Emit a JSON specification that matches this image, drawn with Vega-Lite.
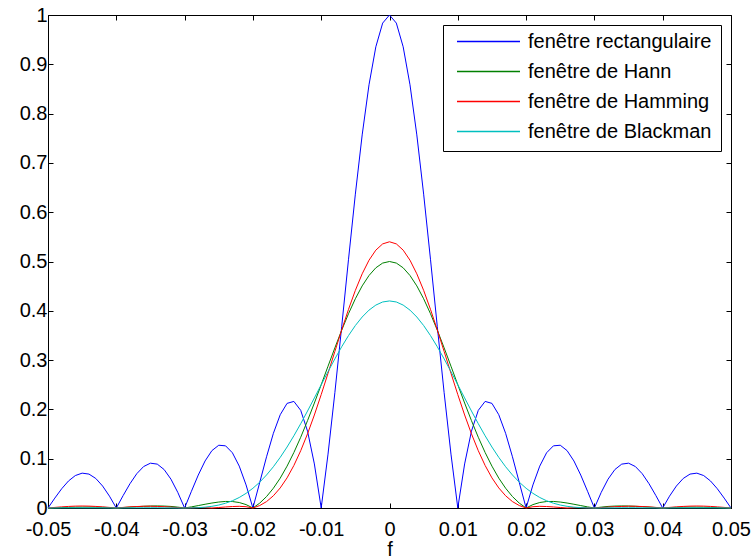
{
  "$schema": "https://vega.github.io/schema/vega-lite/v6.json",
  "width": 683,
  "height": 493,
  "autosize": "none",
  "padding": {"left": 48, "top": 15, "right": 23, "bottom": 52},
  "background": "white",
  "config": {
    "font": "Liberation Sans",
    "view": {"stroke": "black", "strokeWidth": 1},
    "axis": {"grid": false, "domainColor": "black", "tickColor": "black", "labelColor": "black", "titleColor": "black", "labelFontSize": 20, "titleFontSize": 20, "titleFontWeight": "normal", "tickSize": -5, "domainWidth": 1, "tickWidth": 1, "labelFlush": false, "labelOverlap": false}
  },
  "data": {"values": [
    {"f": -0.05, "rect": 0, "hann": 0, "hamming": 0, "blackman": 0},
    {"f": -0.049, "rect": 0.0201, "hann": 0.0004, "hamming": 0.0012, "blackman": 0.0001},
    {"f": -0.048, "rect": 0.039, "hann": 0.0009, "hamming": 0.0023, "blackman": 0.0003},
    {"f": -0.047, "rect": 0.0548, "hann": 0.0013, "hamming": 0.0032, "blackman": 0.0004},
    {"f": -0.046, "rect": 0.0658, "hann": 0.0016, "hamming": 0.0038, "blackman": 0.0004},
    {"f": -0.045, "rect": 0.0707, "hann": 0.0018, "hamming": 0.004, "blackman": 0.0004},
    {"f": -0.044, "rect": 0.0688, "hann": 0.0019, "hamming": 0.0038, "blackman": 0.0004},
    {"f": -0.043, "rect": 0.0599, "hann": 0.0017, "hamming": 0.0032, "blackman": 0.0004},
    {"f": -0.042, "rect": 0.0445, "hann": 0.0013, "hamming": 0.0023, "blackman": 0.0003},
    {"f": -0.041, "rect": 0.024, "hann": 0.0008, "hamming": 0.0012, "blackman": 0.0002},
    {"f": -0.04, "rect": 0, "hann": 0, "hamming": 0, "blackman": 0},
    {"f": -0.039, "rect": 0.0252, "hann": 0.0009, "hamming": 0.0012, "blackman": 0.0002},
    {"f": -0.038, "rect": 0.0492, "hann": 0.0018, "hamming": 0.0023, "blackman": 0.0003},
    {"f": -0.037, "rect": 0.0696, "hann": 0.0027, "hamming": 0.003, "blackman": 0.0004},
    {"f": -0.036, "rect": 0.0841, "hann": 0.0035, "hamming": 0.0035, "blackman": 0.0005},
    {"f": -0.035, "rect": 0.0909, "hann": 0.004, "hamming": 0.0036, "blackman": 0.0005},
    {"f": -0.034, "rect": 0.089, "hann": 0.0042, "hamming": 0.0032, "blackman": 0.0005},
    {"f": -0.033, "rect": 0.078, "hann": 0.0039, "hamming": 0.0026, "blackman": 0.0003},
    {"f": -0.032, "rect": 0.0585, "hann": 0.0032, "hamming": 0.0018, "blackman": 0.0002},
    {"f": -0.031, "rect": 0.0317, "hann": 0.0018, "hamming": 0.0008, "blackman": 0},
    {"f": -0.03, "rect": 0, "hann": 0, "hamming": 0, "blackman": 0},
    {"f": -0.029, "rect": 0.0339, "hann": 0.0023, "hamming": 0.0006, "blackman": 0.0002},
    {"f": -0.028, "rect": 0.0668, "hann": 0.0049, "hamming": 0.0009, "blackman": 0.0007},
    {"f": -0.027, "rect": 0.0954, "hann": 0.0076, "hamming": 0.0007, "blackman": 0.0017},
    {"f": -0.026, "rect": 0.1164, "hann": 0.0101, "hamming": 0, "blackman": 0.0034},
    {"f": -0.025, "rect": 0.1273, "hann": 0.0121, "hamming": 0.001, "blackman": 0.006},
    {"f": -0.024, "rect": 0.1261, "hann": 0.0133, "hamming": 0.0021, "blackman": 0.0097},
    {"f": -0.023, "rect": 0.112, "hann": 0.0131, "hamming": 0.003, "blackman": 0.0147},
    {"f": -0.022, "rect": 0.085, "hann": 0.0111, "hamming": 0.0034, "blackman": 0.0213},
    {"f": -0.021, "rect": 0.0468, "hann": 0.0069, "hamming": 0.0026, "blackman": 0.0297},
    {"f": -0.02, "rect": 0, "hann": 0, "hamming": 0, "blackman": 0.04},
    {"f": -0.019, "rect": 0.0518, "hann": 0.0099, "hamming": 0.005, "blackman": 0.0524},
    {"f": -0.018, "rect": 0.1039, "hann": 0.0232, "hamming": 0.013, "blackman": 0.067},
    {"f": -0.017, "rect": 0.1515, "hann": 0.0401, "hamming": 0.0248, "blackman": 0.0837},
    {"f": -0.016, "rect": 0.1892, "hann": 0.0606, "hamming": 0.0407, "blackman": 0.1027},
    {"f": -0.015, "rect": 0.2122, "hann": 0.0849, "hamming": 0.0611, "blackman": 0.1237},
    {"f": -0.014, "rect": 0.2162, "hann": 0.1126, "hamming": 0.0863, "blackman": 0.1465},
    {"f": -0.013, "rect": 0.1981, "hann": 0.1435, "hamming": 0.1162, "blackman": 0.171},
    {"f": -0.012, "rect": 0.1559, "hann": 0.1772, "hamming": 0.1505, "blackman": 0.1967},
    {"f": -0.011, "rect": 0.0894, "hann": 0.2129, "hamming": 0.1887, "blackman": 0.2232},
    {"f": -0.01, "rect": 0, "hann": 0.25, "hamming": 0.23, "blackman": 0.25},
    {"f": -0.009, "rect": 0.1093, "hann": 0.2876, "hamming": 0.2733, "blackman": 0.2766},
    {"f": -0.008, "rect": 0.2339, "hann": 0.3248, "hamming": 0.3175, "blackman": 0.3025},
    {"f": -0.007, "rect": 0.3679, "hann": 0.3607, "hamming": 0.3612, "blackman": 0.3271},
    {"f": -0.006, "rect": 0.5046, "hann": 0.3942, "hamming": 0.403, "blackman": 0.3498},
    {"f": -0.005, "rect": 0.6366, "hann": 0.4244, "hamming": 0.4414, "blackman": 0.3701},
    {"f": -0.004, "rect": 0.7568, "hann": 0.4505, "hamming": 0.475, "blackman": 0.3874},
    {"f": -0.003, "rect": 0.8584, "hann": 0.4716, "hamming": 0.5026, "blackman": 0.4014},
    {"f": -0.002, "rect": 0.9355, "hann": 0.4872, "hamming": 0.5231, "blackman": 0.4116},
    {"f": -0.001, "rect": 0.9836, "hann": 0.4968, "hamming": 0.5357, "blackman": 0.4179},
    {"f": 0, "rect": 1, "hann": 0.5, "hamming": 0.54, "blackman": 0.42},
    {"f": 0.001, "rect": 0.9836, "hann": 0.4968, "hamming": 0.5357, "blackman": 0.4179},
    {"f": 0.002, "rect": 0.9355, "hann": 0.4872, "hamming": 0.5231, "blackman": 0.4116},
    {"f": 0.003, "rect": 0.8584, "hann": 0.4716, "hamming": 0.5026, "blackman": 0.4014},
    {"f": 0.004, "rect": 0.7568, "hann": 0.4505, "hamming": 0.475, "blackman": 0.3874},
    {"f": 0.005, "rect": 0.6366, "hann": 0.4244, "hamming": 0.4414, "blackman": 0.3701},
    {"f": 0.006, "rect": 0.5046, "hann": 0.3942, "hamming": 0.403, "blackman": 0.3498},
    {"f": 0.007, "rect": 0.3679, "hann": 0.3607, "hamming": 0.3612, "blackman": 0.3271},
    {"f": 0.008, "rect": 0.2339, "hann": 0.3248, "hamming": 0.3175, "blackman": 0.3025},
    {"f": 0.009, "rect": 0.1093, "hann": 0.2876, "hamming": 0.2733, "blackman": 0.2766},
    {"f": 0.01, "rect": 0, "hann": 0.25, "hamming": 0.23, "blackman": 0.25},
    {"f": 0.011, "rect": 0.0894, "hann": 0.2129, "hamming": 0.1887, "blackman": 0.2232},
    {"f": 0.012, "rect": 0.1559, "hann": 0.1772, "hamming": 0.1505, "blackman": 0.1967},
    {"f": 0.013, "rect": 0.1981, "hann": 0.1435, "hamming": 0.1162, "blackman": 0.171},
    {"f": 0.014, "rect": 0.2162, "hann": 0.1126, "hamming": 0.0863, "blackman": 0.1465},
    {"f": 0.015, "rect": 0.2122, "hann": 0.0849, "hamming": 0.0611, "blackman": 0.1237},
    {"f": 0.016, "rect": 0.1892, "hann": 0.0606, "hamming": 0.0407, "blackman": 0.1027},
    {"f": 0.017, "rect": 0.1515, "hann": 0.0401, "hamming": 0.0248, "blackman": 0.0837},
    {"f": 0.018, "rect": 0.1039, "hann": 0.0232, "hamming": 0.013, "blackman": 0.067},
    {"f": 0.019, "rect": 0.0518, "hann": 0.0099, "hamming": 0.005, "blackman": 0.0524},
    {"f": 0.02, "rect": 0, "hann": 0, "hamming": 0, "blackman": 0.04},
    {"f": 0.021, "rect": 0.0468, "hann": 0.0069, "hamming": 0.0026, "blackman": 0.0297},
    {"f": 0.022, "rect": 0.085, "hann": 0.0111, "hamming": 0.0034, "blackman": 0.0213},
    {"f": 0.023, "rect": 0.112, "hann": 0.0131, "hamming": 0.003, "blackman": 0.0147},
    {"f": 0.024, "rect": 0.1261, "hann": 0.0133, "hamming": 0.0021, "blackman": 0.0097},
    {"f": 0.025, "rect": 0.1273, "hann": 0.0121, "hamming": 0.001, "blackman": 0.006},
    {"f": 0.026, "rect": 0.1164, "hann": 0.0101, "hamming": 0, "blackman": 0.0034},
    {"f": 0.027, "rect": 0.0954, "hann": 0.0076, "hamming": 0.0007, "blackman": 0.0017},
    {"f": 0.028, "rect": 0.0668, "hann": 0.0049, "hamming": 0.0009, "blackman": 0.0007},
    {"f": 0.029, "rect": 0.0339, "hann": 0.0023, "hamming": 0.0006, "blackman": 0.0002},
    {"f": 0.03, "rect": 0, "hann": 0, "hamming": 0, "blackman": 0},
    {"f": 0.031, "rect": 0.0317, "hann": 0.0018, "hamming": 0.0008, "blackman": 0},
    {"f": 0.032, "rect": 0.0585, "hann": 0.0032, "hamming": 0.0018, "blackman": 0.0002},
    {"f": 0.033, "rect": 0.078, "hann": 0.0039, "hamming": 0.0026, "blackman": 0.0003},
    {"f": 0.034, "rect": 0.089, "hann": 0.0042, "hamming": 0.0032, "blackman": 0.0005},
    {"f": 0.035, "rect": 0.0909, "hann": 0.004, "hamming": 0.0036, "blackman": 0.0005},
    {"f": 0.036, "rect": 0.0841, "hann": 0.0035, "hamming": 0.0035, "blackman": 0.0005},
    {"f": 0.037, "rect": 0.0696, "hann": 0.0027, "hamming": 0.003, "blackman": 0.0004},
    {"f": 0.038, "rect": 0.0492, "hann": 0.0018, "hamming": 0.0023, "blackman": 0.0003},
    {"f": 0.039, "rect": 0.0252, "hann": 0.0009, "hamming": 0.0012, "blackman": 0.0002},
    {"f": 0.04, "rect": 0, "hann": 0, "hamming": 0, "blackman": 0},
    {"f": 0.041, "rect": 0.024, "hann": 0.0008, "hamming": 0.0012, "blackman": 0.0002},
    {"f": 0.042, "rect": 0.0445, "hann": 0.0013, "hamming": 0.0023, "blackman": 0.0003},
    {"f": 0.043, "rect": 0.0599, "hann": 0.0017, "hamming": 0.0032, "blackman": 0.0004},
    {"f": 0.044, "rect": 0.0688, "hann": 0.0019, "hamming": 0.0038, "blackman": 0.0004},
    {"f": 0.045, "rect": 0.0707, "hann": 0.0018, "hamming": 0.004, "blackman": 0.0004},
    {"f": 0.046, "rect": 0.0658, "hann": 0.0016, "hamming": 0.0038, "blackman": 0.0004},
    {"f": 0.047, "rect": 0.0548, "hann": 0.0013, "hamming": 0.0032, "blackman": 0.0004},
    {"f": 0.048, "rect": 0.039, "hann": 0.0009, "hamming": 0.0023, "blackman": 0.0003},
    {"f": 0.049, "rect": 0.0201, "hann": 0.0004, "hamming": 0.0012, "blackman": 0.0001},
    {"f": 0.05, "rect": 0, "hann": 0, "hamming": 0, "blackman": 0}
  ]},
  "transform": [{"fold": ["rect", "hann", "hamming", "blackman"], "as": ["window", "value"]}],
  "layer": [
    {
      "mark": {"type": "line", "strokeWidth": 1},
      "encoding": {
        "x": {
          "field": "f", "type": "quantitative",
          "scale": {"domain": [-0.05, 0.05], "nice": false, "zero": false},
          "axis": {"orient": "bottom", "values": [-0.05, -0.04, -0.03, -0.02, -0.01, 0, 0.01, 0.02, 0.03, 0.04, 0.05], "labelExpr": "toString(round(datum.value*100)/100)", "labelPadding": 16, "title": "f", "titlePadding": 0}
        },
        "y": {
          "field": "value", "type": "quantitative",
          "scale": {"domain": [0, 1], "nice": false},
          "axis": {"orient": "left", "values": [0, 0.1, 0.2, 0.3, 0.4, 0.5, 0.6, 0.7, 0.8, 0.9, 1], "labelExpr": "format(datum.value, '.1~f')", "labelPadding": 6, "title": null}
        },
        "color": {
          "field": "window", "type": "nominal",
          "scale": {"domain": ["rect", "hann", "hamming", "blackman"], "range": ["#0000ff", "#008000", "#ff0000", "#00bfbf"]},
          "legend": {
            "orient": "none", "legendX": 395, "legendY": 10, "title": null,
            "symbolType": "stroke", "symbolSize": 3969, "symbolStrokeWidth": 1.5, "symbolOpacity": 1,
            "labelFontSize": 20, "labelColor": "black", "labelLimit": 400, "labelOffset": 7,
            "clipHeight": 15, "rowPadding": 9, "padding": 9, "symbolOffset": 4,
            "strokeColor": "black", "fillColor": "white",
            "labelExpr": "datum.label == 'rect' ? 'fenêtre rectangulaire' : datum.label == 'hann' ? 'fenêtre de Hann' : datum.label == 'hamming' ? 'fenêtre de Hamming' : 'fenêtre de Blackman'"
          }
        }
      }
    },
    {
      "mark": {"type": "point", "opacity": 0},
      "encoding": {
        "x": {"field": "f", "type": "quantitative", "axis": {"orient": "top", "values": [-0.05, -0.04, -0.03, -0.02, -0.01, 0, 0.01, 0.02, 0.03, 0.04, 0.05], "labels": false, "domain": false, "title": null}},
        "y": {"field": "value", "type": "quantitative", "axis": {"orient": "right", "values": [0, 0.1, 0.2, 0.3, 0.4, 0.5, 0.6, 0.7, 0.8, 0.9, 1], "labels": false, "domain": false, "title": null}}
      }
    }
  ],
  "resolve": {"axis": {"x": "independent", "y": "independent"}}
}
